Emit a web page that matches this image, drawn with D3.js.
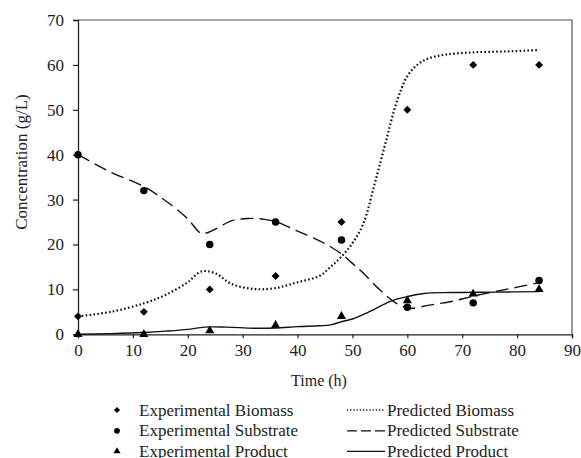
<!DOCTYPE html>
<html>
<head>
<meta charset="utf-8">
<script src="https://cdn.jsdelivr.net/npm/d3@7"></script>
<style>
  html, body { margin: 0; padding: 0; background: #fff; }
  svg { display: block; }
  svg text { font-family: "Liberation Serif", "DejaVu Serif", "Times New Roman", Times, serif; fill: #222; }
</style>
</head>
<body>
<script>
// Sampling times (h)
const sampleTimes = [0, 12, 24, 36, 48, 60, 72, 84];

// Experimental measurements (g/L)
const expBiomass   = [4, 5, 10, 13, 25, 50, 60, 60];
const expSubstrate = [40, 32, 20, 25, 21, 6, 7, 12];
const expProduct   = [0, 0, 0.8, 2, 4, 7.5, 9, 10];

// Model predictions as [time, concentration]
const predBiomass = [
  [0, 4.0], [6, 5.0], [12, 6.9], [16, 8.8], [20, 11.6], [22.5, 14.0], [25, 13.6],
  [28, 11.2], [32, 10.1], [36, 10.3], [40, 11.6], [44, 13.0], [46, 15.0], [48, 17.3],
  [50, 20.3], [52, 24.7], [54, 33.3], [56, 42.5], [58, 51.5], [60, 57.5], [62, 60.2],
  [64, 61.5], [67, 62.3], [72, 62.8], [78, 63.0], [84, 63.3]
];
const predSubstrate = [
  [0, 40.0], [6, 36.1], [12, 32.9], [16, 29.7], [20, 25.7], [22.5, 22.5], [25, 23.4],
  [28, 25.3], [31, 25.8], [34, 25.6], [36, 25.1], [40, 23.0], [44, 20.8], [46, 19.5],
  [48, 17.9], [50, 15.8], [52, 13.6], [55, 9.9], [58, 6.9], [60, 5.9], [61, 5.8],
  [64, 6.5], [68, 7.3], [72, 8.5], [78, 10.0], [84, 11.5]
];
const predProduct = [
  [0, 0.0], [6, 0.15], [12, 0.4], [16, 0.7], [20, 1.1], [23, 1.6], [27, 1.6],
  [32, 1.35], [36, 1.4], [40, 1.7], [44, 1.9], [46, 2.1], [48, 2.8], [50, 3.4],
  [53, 5.0], [57, 7.4], [60, 8.4], [63, 9.1], [68, 9.3], [76, 9.4], [84, 9.5]
];

// Axis ticks
const xTicks = [0, 10, 20, 30, 40, 50, 60, 70, 80, 90];
const yTicks = [0, 10, 20, 30, 40, 50, 60, 70];

const legendLeft  = ["Experimental Biomass", "Experimental Substrate", "Experimental Product"];
const legendRight = ["Predicted Biomass", "Predicted Substrate", "Predicted Product"];

const W = 581, H = 458;
const plot = { left: 78, right: 572, top: 20, bottom: 334.3 };
const FONT = "'Liberation Serif', 'DejaVu Serif', 'Times New Roman', Times, serif";

const svg = d3.select("body").append("svg").attr("width", W).attr("height", H);

const x = d3.scaleLinear().domain([0, 90]).range([plot.left, plot.right]);
const y = d3.scaleLinear().domain([0, 70]).range([plot.bottom, plot.top]);

// Plot frame (top and right edges)
svg.append("path")
  .attr("d", `M${plot.left},${plot.top}H${plot.right}V${plot.bottom}`)
  .attr("fill", "none").attr("stroke", "#555").attr("stroke-width", 1.2);

// Axes
const xAxis = svg.append("g")
  .attr("transform", `translate(0,${plot.bottom})`)
  .call(d3.axisBottom(x).tickValues(xTicks).tickSize(4).tickPadding(6).tickFormat(d3.format("d")));
const yAxis = svg.append("g")
  .attr("transform", `translate(${plot.left},0)`)
  .call(d3.axisLeft(y).tickValues(yTicks).tickSize(5).tickPadding(9).tickFormat(d3.format("d")));

[xAxis, yAxis].forEach(g => {
  g.attr("font-family", FONT);
  g.select(".domain").attr("stroke", "#222").attr("stroke-width", 1.3);
  g.selectAll(".tick line").attr("stroke", "#222").attr("stroke-width", 1.2);
  g.selectAll(".tick text").attr("font-size", 17).attr("fill", "#222");
});

// Axis titles
svg.append("text")
  .attr("x", 319).attr("y", 386)
  .attr("text-anchor", "middle").attr("font-size", 16)
  .text("Time (h)");
svg.append("text")
  .attr("transform", "translate(27,162) rotate(-90)")
  .attr("text-anchor", "middle").attr("font-size", 17)
  .text("Concentration (g/L)");

// Predicted curves
const line = d3.line()
  .x(d => x(d[0])).y(d => y(d[1]))
  .curve(d3.curveCatmullRom.alpha(0.5));

const styles = {
  biomass:   { dash: "1.6,2.3", width: 2.2 },
  substrate: { dash: "13,6",    width: 1.4 },
  product:   { dash: null,      width: 1.4 }
};

function drawCurve(data, st) {
  const p = svg.append("path")
    .datum(data)
    .attr("d", line)
    .attr("fill", "none")
    .attr("stroke", "#111")
    .attr("stroke-width", st.width);
  if (st.dash) p.attr("stroke-dasharray", st.dash);
}
drawCurve(predBiomass, styles.biomass);
drawCurve(predSubstrate, styles.substrate);
drawCurve(predProduct, styles.product);

// Experimental markers
const diamond  = d3.symbol().type(d3.symbolDiamond2);
const circle   = d3.symbol().type(d3.symbolCircle);
const triangle = d3.symbol().type(d3.symbolTriangle);

function drawMarkers(values, sym, size) {
  svg.append("g").selectAll("path")
    .data(values.map((v, i) => [sampleTimes[i], v]))
    .join("path")
    .attr("transform", d => `translate(${x(d[0])},${y(d[1])})`)
    .attr("d", sym.size(size))
    .attr("fill", "#000");
}
drawMarkers(expBiomass, diamond, 40);
drawMarkers(expSubstrate, circle, 44);
drawMarkers(expProduct, triangle, 36);

// Legend
const rowY = [410, 430.8, 451.3];
const lg = svg.append("g");

[[diamond, 24], [circle, 26], [triangle, 22]].forEach(([sym, size], i) => {
  lg.append("path")
    .attr("transform", `translate(117,${rowY[i]})`)
    .attr("d", sym.size(size))
    .attr("fill", "#000");
  lg.append("text")
    .attr("x", 139).attr("y", rowY[i] + 5.5)
    .attr("font-size", 17)
    .text(legendLeft[i]);
});

[styles.biomass, styles.substrate, styles.product].forEach((st, i) => {
  const l = lg.append("line")
    .attr("x1", 347).attr("x2", 385)
    .attr("y1", rowY[i]).attr("y2", rowY[i])
    .attr("stroke", "#111")
    .attr("stroke-width", i === 0 ? 1.5 : 1.3);
  if (i === 0) l.attr("stroke-dasharray", "1.2,2");
  if (i === 1) l.attr("stroke-dasharray", "10,4");
  lg.append("text")
    .attr("x", 387).attr("y", rowY[i] + 5.5)
    .attr("font-size", 17)
    .text(legendRight[i]);
});
</script>
</body>
</html>
